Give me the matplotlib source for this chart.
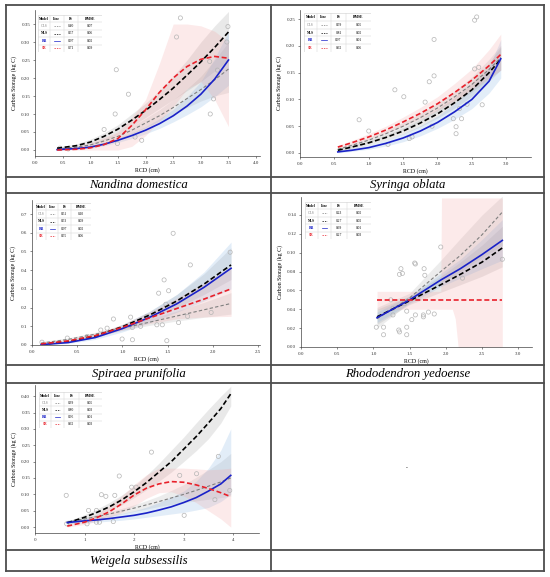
import matplotlib
matplotlib.use('Agg')
import matplotlib.pyplot as plt
from matplotlib.lines import Line2D

plt.rcParams['font.family'] = ['Liberation Serif', 'DejaVu Serif']

W, H = 550, 577

# ---------------- data ----------------
models = ["OLS", "NLS", "RR", "SR"]
table_cols = ["Model", "Line", "R\u00b2", "RMSE"]

# Nandina domestica
nd_x = [0.4, 0.75, 1.0, 1.25, 1.5, 1.75, 2.0, 2.25, 2.5, 2.75, 3.0, 3.25, 3.5]
nd_ols = [0.003, 0.008, 0.014, 0.025, 0.038, 0.055, 0.075, 0.095, 0.118, 0.143, 0.168, 0.195, 0.225]
nd_nls = [0.005, 0.012, 0.022, 0.038, 0.058, 0.083, 0.110, 0.140, 0.172, 0.208, 0.245, 0.285, 0.328]
nd_rr = [0.001, 0.004, 0.008, 0.016, 0.027, 0.040, 0.055, 0.073, 0.095, 0.122, 0.155, 0.197, 0.250]
nd_sr = [0.000, 0.002, 0.006, 0.015, 0.032, 0.068, 0.112, 0.160, 0.200, 0.232, 0.252, 0.260, 0.255]
nd_ols_lo = [0.001, 0.005, 0.010, 0.019, 0.030, 0.045, 0.062, 0.080, 0.098, 0.118, 0.136, 0.150, 0.160]
nd_ols_hi = [0.005, 0.011, 0.018, 0.031, 0.046, 0.065, 0.088, 0.112, 0.140, 0.170, 0.205, 0.250, 0.300]
nd_nls_lo = [0.002, 0.008, 0.015, 0.028, 0.045, 0.066, 0.090, 0.115, 0.140, 0.165, 0.190, 0.220, 0.250]
nd_nls_hi = [0.008, 0.017, 0.030, 0.048, 0.070, 0.100, 0.130, 0.165, 0.205, 0.250, 0.300, 0.345, 0.385]
nd_rr_lo = [0.000, 0.002, 0.005, 0.012, 0.021, 0.032, 0.045, 0.060, 0.078, 0.098, 0.120, 0.148, 0.180]
nd_rr_hi = [0.003, 0.007, 0.012, 0.021, 0.033, 0.048, 0.065, 0.087, 0.113, 0.148, 0.190, 0.255, 0.330]
nd_sr_lo = [0.000, 0.000, 0.000, 0.000, 0.000, 0.010, 0.040, 0.080, 0.120, 0.170, 0.190, 0.140, 0.065]
nd_sr_hi = [0.003, 0.010, 0.020, 0.035, 0.050, 0.090, 0.140, 0.240, 0.350, 0.350, 0.345, 0.330, 0.300]
nd_pt_x = [0.45, 0.6, 1.25, 1.45, 1.47, 1.49, 1.69, 1.81, 1.93, 2.56, 2.63, 3.16, 3.17, 3.23, 3.3, 3.47, 3.49]
nd_pt_y = [0.005, 0.003, 0.057, 0.100, 0.223, 0.018, 0.155, 0.036, 0.027, 0.314, 0.367, 0.246, 0.100, 0.142, 0.222, 0.300, 0.343]
nd_r2 = ["0.40", "0.57", "0.97", "0.71"]
nd_rmse = ["0.07", "0.06", "0.02", "0.09"]

# Syringa oblata
so_x = [0.55, 0.75, 1.0, 1.25, 1.5, 1.75, 2.0, 2.25, 2.5, 2.75, 2.92]
so_ols = [0.007, 0.014, 0.024, 0.036, 0.050, 0.066, 0.084, 0.105, 0.128, 0.156, 0.178]
so_nls = [0.005, 0.011, 0.019, 0.029, 0.041, 0.056, 0.073, 0.094, 0.118, 0.150, 0.175]
so_rr = [0.002, 0.005, 0.010, 0.018, 0.028, 0.041, 0.057, 0.077, 0.100, 0.134, 0.176]
so_sr = [0.011, 0.019, 0.030, 0.043, 0.058, 0.074, 0.092, 0.113, 0.136, 0.163, 0.184]
so_ols_lo = [0.004, 0.010, 0.019, 0.030, 0.043, 0.058, 0.075, 0.094, 0.114, 0.138, 0.155]
so_ols_hi = [0.010, 0.018, 0.029, 0.042, 0.057, 0.074, 0.093, 0.116, 0.142, 0.175, 0.201]
so_nls_lo = [0.003, 0.008, 0.015, 0.024, 0.035, 0.049, 0.065, 0.084, 0.106, 0.134, 0.155]
so_nls_hi = [0.008, 0.014, 0.023, 0.034, 0.047, 0.063, 0.082, 0.104, 0.131, 0.168, 0.198]
so_rr_lo = [0.000, 0.003, 0.007, 0.013, 0.021, 0.032, 0.046, 0.063, 0.083, 0.112, 0.140]
so_rr_hi = [0.005, 0.009, 0.015, 0.024, 0.036, 0.051, 0.069, 0.093, 0.120, 0.160, 0.212]
so_sr_lo = [0.008, 0.015, 0.025, 0.037, 0.050, 0.064, 0.080, 0.098, 0.118, 0.140, 0.155]
so_sr_hi = [0.014, 0.023, 0.036, 0.050, 0.067, 0.085, 0.105, 0.130, 0.157, 0.193, 0.222]
so_pt_x = [0.86, 1.0, 1.28, 1.38, 1.51, 1.59, 1.63, 1.82, 1.88, 1.92, 1.95, 1.95, 2.23, 2.27, 2.27,
           2.32, 2.35, 2.43, 2.54, 2.54, 2.57, 2.6, 2.65]
so_pt_y = [0.062, 0.041, 0.016, 0.118, 0.105, 0.027, 0.030, 0.095, 0.133, 0.050, 0.212, 0.144, 0.064,
           0.049, 0.036, 0.083, 0.064, 0.091, 0.248, 0.157, 0.254, 0.160, 0.090]
so_r2 = ["0.59", "0.81", "0.97", "0.62"]
so_rmse = ["0.05", "0.02", "0.01", "0.06"]

# Spiraea prunifolia
sp_x = [0.1, 0.4, 0.7, 1.0, 1.3, 1.6, 1.9, 2.2]
sp_ols = [0.010, 0.030, 0.058, 0.090, 0.122, 0.155, 0.188, 0.222]
sp_nls = [0.003, 0.018, 0.048, 0.098, 0.160, 0.235, 0.325, 0.428]
sp_rr = [0.002, 0.013, 0.040, 0.088, 0.148, 0.220, 0.308, 0.410]
sp_sr = [0.006, 0.022, 0.050, 0.095, 0.145, 0.195, 0.245, 0.300]
sp_ols_lo = [0.002, 0.022, 0.048, 0.078, 0.105, 0.128, 0.148, 0.165]
sp_ols_hi = [0.018, 0.038, 0.068, 0.102, 0.140, 0.182, 0.228, 0.280]
sp_nls_lo = [0.000, 0.012, 0.040, 0.085, 0.140, 0.200, 0.270, 0.350]
sp_nls_hi = [0.006, 0.025, 0.058, 0.110, 0.180, 0.270, 0.380, 0.520]
sp_rr_lo = [0.000, 0.008, 0.030, 0.070, 0.120, 0.175, 0.235, 0.300]
sp_rr_hi = [0.005, 0.020, 0.052, 0.110, 0.180, 0.270, 0.390, 0.550]
sp_sr_lo = [0.000, 0.015, 0.040, 0.080, 0.115, 0.140, 0.150, 0.153]
sp_sr_hi = [0.012, 0.030, 0.062, 0.110, 0.175, 0.250, 0.330, 0.420]
sp_pt_x = [0.11, 0.39, 0.61, 0.76, 0.83, 0.90, 0.996, 1.09, 1.11, 1.11, 1.2, 1.27, 1.38, 1.40,
           1.44, 1.46, 1.48, 1.49, 1.51, 1.56, 1.62, 1.72, 1.75, 1.98, 2.19]
sp_pt_y = [0.015, 0.037, 0.046, 0.080, 0.090, 0.139, 0.032, 0.149, 0.094, 0.028, 0.100, 0.153,
           0.108, 0.277, 0.108, 0.348, 0.218, 0.023, 0.290, 0.597, 0.120, 0.153, 0.428, 0.174, 0.496]
sp_r2 = ["0.51", "0.53", "0.97", "0.55"]
sp_rmse = ["0.10", "0.09", "0.02", "0.06"]

# Rhododendron yedoense
ry_x = [1.05, 1.5, 1.93, 2.2, 2.5, 2.78]
ry_ols = [0.030, 0.052, 0.080, 0.097, 0.119, 0.143]
ry_nls = [0.032, 0.049, 0.066, 0.077, 0.090, 0.105]
ry_rr = [0.031, 0.050, 0.071, 0.083, 0.098, 0.113]
ry_sr = [0.050, 0.050, 0.050, 0.050, 0.050, 0.050]
ry_ols_lo = [0.020, 0.047, 0.068, 0.080, 0.095, 0.108]
ry_ols_hi = [0.042, 0.057, 0.092, 0.115, 0.140, 0.160]
ry_nls_lo = [0.024, 0.045, 0.058, 0.066, 0.075, 0.085]
ry_nls_hi = [0.040, 0.054, 0.075, 0.090, 0.108, 0.128]
ry_rr_lo = [0.026, 0.046, 0.064, 0.073, 0.083, 0.092]
ry_rr_hi = [0.037, 0.054, 0.078, 0.093, 0.114, 0.135]
ry_sr_band_x = [1.05, 1.93, 1.94, 2.09, 2.13, 2.17, 2.78]
ry_sr_lo = [0.040, 0.040, 0.040, 0.040, 0.030, 0.000, 0.000]
ry_sr_hi = [0.059, 0.059, 0.158, 0.158, 0.158, 0.158, 0.158]
ry_pt_x = [1.04, 1.14, 1.14, 1.24, 1.27, 1.27, 1.35, 1.36, 1.36, 1.38, 1.40, 1.43, 1.46, 1.46, 1.46,
           1.53, 1.57, 1.58, 1.58, 1.69, 1.69, 1.70, 1.71, 1.76, 1.84, 1.93, 2.23, 2.78]
ry_pt_y = [0.021, 0.021, 0.013, 0.050, 0.041, 0.034, 0.018, 0.016, 0.077, 0.083, 0.078, 0.046, 0.038,
           0.021, 0.013, 0.029, 0.089, 0.088, 0.034, 0.034, 0.032, 0.083, 0.076, 0.037, 0.035, 0.106,
           0.073, 0.093]
ry_r2 = ["0.23", "0.27", "0.69", "0.27"]
ry_rmse = ["0.02", "0.02", "0.01", "0.03"]

# Weigela subsessilis
ws_x = [0.65, 1.0, 1.25, 1.5, 1.75, 2.0, 2.25, 2.5, 2.75, 3.0, 3.25, 3.5, 3.75, 3.95]
ws_ols = [0.015, 0.025, 0.032, 0.040, 0.049, 0.058, 0.068, 0.078, 0.089, 0.100, 0.112, 0.125, 0.138, 0.150]
ws_nls = [0.013, 0.030, 0.045, 0.062, 0.083, 0.108, 0.136, 0.168, 0.200, 0.238, 0.276, 0.318, 0.362, 0.407]
ws_rr = [0.014, 0.019, 0.022, 0.026, 0.031, 0.036, 0.043, 0.052, 0.062, 0.075, 0.090, 0.110, 0.132, 0.158]
ws_sr = [0.003, 0.015, 0.029, 0.047, 0.071, 0.098, 0.119, 0.132, 0.139, 0.137, 0.129, 0.118, 0.105, 0.093]
ws_ols_lo = [0.010, 0.020, 0.027, 0.033, 0.040, 0.048, 0.055, 0.063, 0.069, 0.075, 0.080, 0.085, 0.090, 0.095]
ws_ols_hi = [0.020, 0.030, 0.038, 0.047, 0.057, 0.068, 0.081, 0.095, 0.112, 0.130, 0.152, 0.175, 0.200, 0.225]
ws_nls_lo = [0.008, 0.022, 0.035, 0.050, 0.068, 0.090, 0.114, 0.140, 0.168, 0.200, 0.233, 0.270, 0.318, 0.370]
ws_nls_hi = [0.018, 0.038, 0.055, 0.075, 0.098, 0.125, 0.158, 0.195, 0.235, 0.275, 0.318, 0.360, 0.400, 0.430]
ws_rr_lo = [0.008, 0.013, 0.015, 0.018, 0.021, 0.025, 0.030, 0.035, 0.040, 0.045, 0.052, 0.060, 0.078, 0.100]
ws_rr_hi = [0.022, 0.026, 0.030, 0.035, 0.042, 0.050, 0.061, 0.075, 0.092, 0.110, 0.140, 0.180, 0.235, 0.300]
ws_sr_lo = [0.000, 0.008, 0.018, 0.030, 0.045, 0.065, 0.088, 0.105, 0.108, 0.095, 0.075, 0.050, 0.025, 0.000]
ws_sr_hi = [0.008, 0.022, 0.040, 0.065, 0.095, 0.130, 0.160, 0.180, 0.180, 0.180, 0.178, 0.175, 0.177, 0.180]
ws_pt_x = [0.63, 0.64, 1.05, 1.08, 1.24, 1.24, 1.30, 1.34, 1.43, 1.58, 1.61, 1.70, 1.95, 2.04, 2.35,
           2.92, 3.01, 3.26, 3.63, 3.70, 3.93]
ws_pt_y = [0.097, 0.010, 0.010, 0.051, 0.051, 0.015, 0.015, 0.099, 0.094, 0.017, 0.097, 0.156, 0.122,
           0.122, 0.229, 0.158, 0.036, 0.163, 0.084, 0.216, 0.112]
ws_r2 = ["0.39", "0.80", "0.95", "0.62"]
ws_rmse = ["0.05", "0.03", "0.01", "0.03"]

species = ["Nandina domestica", "Syringa oblata", "Spiraea prunifolia",
           "Rhododendron yedoense", "Weigela subsessilis"]

# ---------------- styles ----------------
C_OLS = '#7f7f7f'
C_NLS = '#000000'
C_RR = '#1a22c8'
C_SR = '#e8202a'
B_OLS = '#9a9a9a'
B_NLS = '#8a8a8a'
B_RR = '#7eaee0'
B_SR = '#f4a0a0'

fig = plt.figure(figsize=(W / 100, H / 100), dpi=100)


def rect(l, t, r, b):
    return [l / W, 1 - b / H, (r - l) / W, (b - t) / H]


def hline(y, x0=6, x1=544, lw=1.3):
    fig.add_artist(Line2D([x0 / W, x1 / W], [1 - y / H, 1 - y / H], color='#4d4d4d', lw=lw))


def vline(x, y0=5, y1=571, lw=1.3):
    fig.add_artist(Line2D([x / W, x / W], [1 - y0 / H, 1 - y1 / H], color='#4d4d4d', lw=lw))


# table-like grid
for y in [5, 176.5, 193, 364.5, 383, 550, 571]:
    hline(y)
for x in [6, 271, 544]:
    vline(x)


def draw_table(trect, r2, rmse):
    t = fig.add_axes(rect(*trect))
    t.set_xlim(0, 1)
    t.set_ylim(0, 1)
    t.axis('off')
    t.add_patch(plt.Rectangle((0, 0), 1, 1, facecolor='white', edgecolor='#cfcfcf', lw=0.4, zorder=0))
    cols = [0, 0.19, 0.40, 0.63, 1.0]
    for c in cols[1:-1]:
        t.plot([c, c], [0, 1], color='#d5d5d5', lw=0.35)
    for r in range(1, 5):
        t.plot([0, 1], [r / 5, r / 5], color='#d5d5d5', lw=0.35)
    fs = 2.6
    yc = lambda r: 1 - (r + 0.5) / 5
    for j, lab in enumerate(table_cols):
        t.text((cols[j] + cols[j + 1]) / 2, yc(0), lab, ha='center', va='center',
               fontsize=fs, fontweight='bold')
    colors = [C_OLS, C_NLS, C_RR, C_SR]
    weights = ['normal', 'bold', 'bold', 'bold']
    styles = [(0, (2, 1.5)), (0, (2, 1.5)), '-', (0, (2, 1.5))]
    for i, m in enumerate(models):
        y = yc(i + 1)
        t.text((cols[0] + cols[1]) / 2, y, m, ha='center', va='center', fontsize=fs,
               color=colors[i], fontweight=weights[i])
        t.plot([cols[1] + 0.06, cols[2] - 0.06], [y, y], color=colors[i], lw=0.5, linestyle=styles[i])
        t.text((cols[2] + cols[3]) / 2, y, r2[i], ha='center', va='center', fontsize=fs)
        t.text((cols[3] + cols[4]) / 2, y, rmse[i], ha='center', va='center', fontsize=fs)


def draw_panel(arect, x, ols, nls, rr, sr, bands, px, py, xlim, ylim, xticks, yticks, xfmt, yfmt,
               trect, r2, rmse):
    ax = fig.add_axes(rect(*arect))
    (ols_lo, ols_hi), (nls_lo, nls_hi), (rr_lo, rr_hi), (srx, sr_lo, sr_hi) = bands
    ax.fill_between(x, ols_lo, ols_hi, color=B_OLS, alpha=0.18, lw=0)
    ax.fill_between(x, nls_lo, nls_hi, color=B_NLS, alpha=0.18, lw=0)
    ax.fill_between(x, rr_lo, rr_hi, color=B_RR, alpha=0.22, lw=0)
    ax.fill_between(srx, sr_lo, sr_hi, color=B_SR, alpha=0.22, lw=0)
    ax.scatter(px, py, s=9, facecolors='none', edgecolors='#b5b5b5', linewidths=0.5, zorder=2)
    ax.plot(x, ols, color=C_OLS, lw=0.8, linestyle=(0, (3, 2)), zorder=3)
    ax.plot(x, nls, color=C_NLS, lw=1.2, linestyle=(0, (3, 1.6)), zorder=4)
    ax.plot(x, rr, color=C_RR, lw=1.2, zorder=4)
    ax.plot(x, sr, color=C_SR, lw=1.2, linestyle=(0, (3, 1.6)), zorder=5)
    ax.set_xlim(*xlim)
    ax.set_ylim(*ylim)
    ax.set_xticks(xticks)
    ax.set_yticks(yticks)
    ax.set_xticklabels([xfmt.format(v) for v in xticks])
    ax.set_yticklabels([yfmt.format(v) for v in yticks])
    ax.tick_params(labelsize=3.6, length=1.5, width=0.4, pad=2, colors='#333333')
    for s in ['top', 'right']:
        ax.spines[s].set_visible(False)
    for s in ['left', 'bottom']:
        ax.spines[s].set_linewidth(0.5)
        ax.spines[s].set_color('#444444')
    ax.set_xlabel('RCD (cm)', fontsize=4.2, labelpad=2)
    ax.set_ylabel('Carbon Storage (kg C)', fontsize=4.2, labelpad=3)
    ax.patch.set_alpha(0)
    draw_table(trect, r2, rmse)
    return ax


def steps(a, b, n):
    return [round(a + i * (b - a) / n, 4) for i in range(n + 1)]


draw_panel((35, 10, 260, 156), nd_x, nd_ols, nd_nls, nd_rr, nd_sr,
           ((nd_ols_lo, nd_ols_hi), (nd_nls_lo, nd_nls_hi), (nd_rr_lo, nd_rr_hi), (nd_x, nd_sr_lo, nd_sr_hi)),
           nd_pt_x, nd_pt_y, (0, 4.07), (-0.0167, 0.389), steps(0, 4, 8), steps(0, 0.35, 7),
           '{:.1f}', '{:.2f}', (38, 15, 102, 52), nd_r2, nd_rmse)

draw_panel((300, 10, 531, 157), so_x, so_ols, so_nls, so_rr, so_sr,
           ((so_ols_lo, so_ols_hi), (so_nls_lo, so_nls_hi), (so_rr_lo, so_rr_hi), (so_x, so_sr_lo, so_sr_hi)),
           so_pt_x, so_pt_y, (0, 3.36), (-0.0075, 0.267), steps(0, 3, 6), steps(0, 0.25, 5),
           '{:.1f}', '{:.2f}', (304, 13, 371, 52), so_r2, so_rmse)

draw_panel((32, 200, 260, 345), sp_x, sp_ols, sp_nls, sp_rr, sp_sr,
           ((sp_ols_lo, sp_ols_hi), (sp_nls_lo, sp_nls_hi), (sp_rr_lo, sp_rr_hi), (sp_x, sp_sr_lo, sp_sr_hi)),
           sp_pt_x, sp_pt_y, (0, 2.52), (0, 0.775), steps(0, 2.5, 5), steps(0, 0.7, 7),
           '{:.1f}', '{:.1f}', (36, 203, 91, 240), sp_r2, sp_rmse)

draw_panel((301, 197, 532, 347), ry_x, ry_ols, ry_nls, ry_rr, ry_sr,
           ((ry_ols_lo, ry_ols_hi), (ry_nls_lo, ry_nls_hi), (ry_rr_lo, ry_rr_hi), (ry_sr_band_x, ry_sr_lo, ry_sr_hi)),
           ry_pt_x, ry_pt_y, (0, 3.19), (0, 0.159), steps(0, 3, 6), steps(0, 0.14, 7),
           '{:.1f}', '{:.2f}', (305, 202, 371, 239), ry_r2, ry_rmse)

draw_panel((35, 385, 259, 533), ws_x, ws_ols, ws_nls, ws_rr, ws_sr,
           ((ws_ols_lo, ws_ols_hi), (ws_nls_lo, ws_nls_hi), (ws_rr_lo, ws_rr_hi), (ws_x, ws_sr_lo, ws_sr_hi)),
           ws_pt_x, ws_pt_y, (0, 4.52), (-0.018, 0.434), [0, 1, 2, 3, 4], steps(0, 0.40, 8),
           '{:.0f}', '{:.2f}', (39, 392, 102, 428), ws_r2, ws_rmse)

# species names
name_pos = [(138.5, 185), (407.5, 185), (138.5, 374), (407.5, 374), (138.5, 561)]
for name, (x, y) in zip(species, name_pos):
    fig.text(x / W, 1 - y / H, name, ha='center', va='center', fontsize=9.2,
             style='italic', family=['Liberation Serif', 'DejaVu Serif'])

fig.text(407 / W, 1 - 468 / H, '-', ha='center', va='center', fontsize=4)

fig.savefig('out.png', dpi=100)
